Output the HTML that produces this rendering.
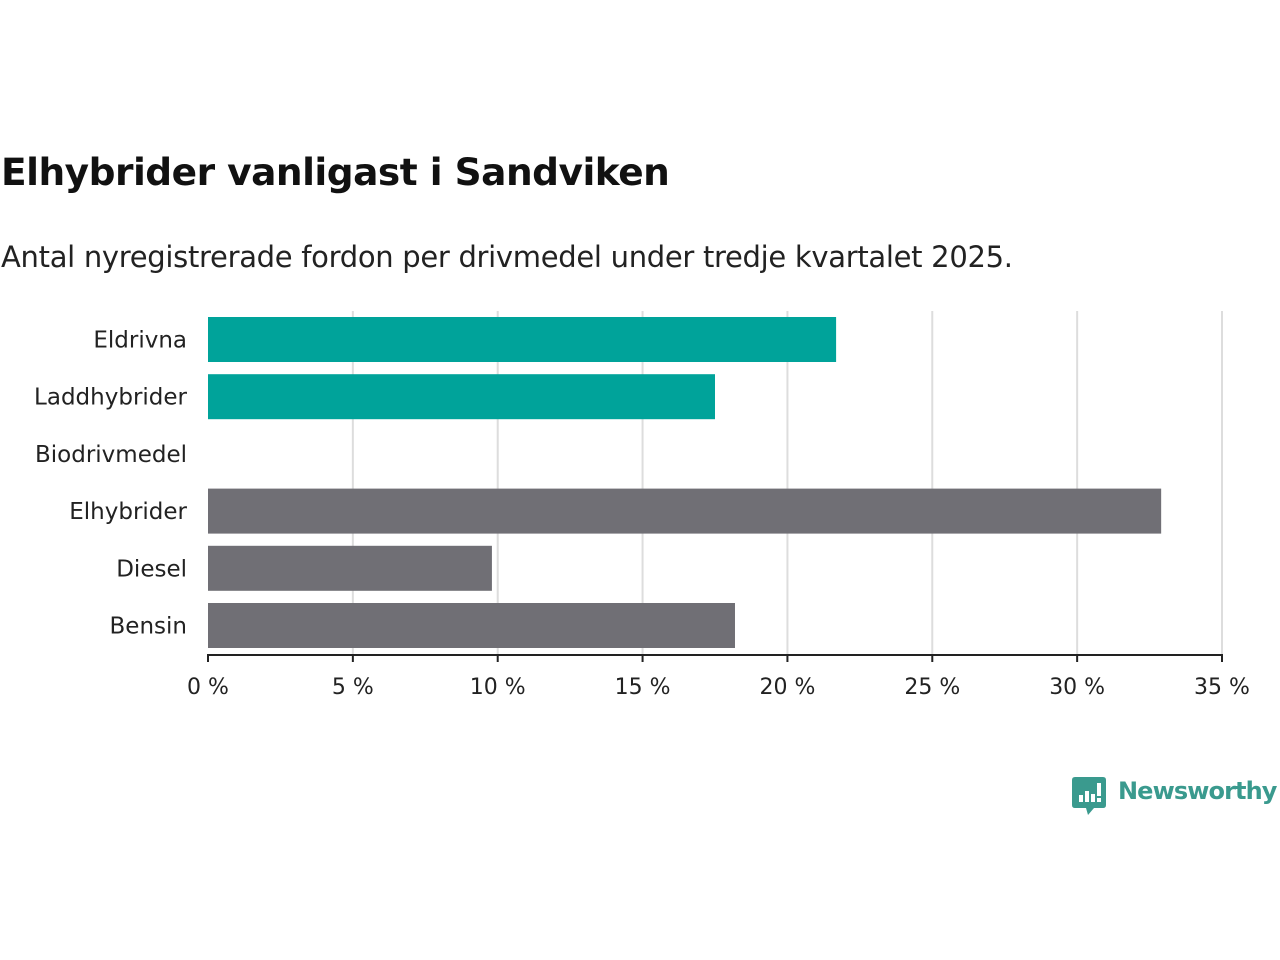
<!DOCTYPE html>
<html><head><meta charset="utf-8"><style>
body{margin:0;width:1280px;height:960px;background:#fff;font-family:"DejaVu Sans","Liberation Sans",sans-serif;overflow:hidden;position:relative}
#title{position:absolute;left:1px;top:150px;font-size:37.5px;font-weight:bold;color:#111;letter-spacing:-0.5px}
#sub{position:absolute;left:1px;top:240px;font-size:29px;color:#222;letter-spacing:-0.3px}
</style></head><body>
<div id="title">Elhybrider vanligast i Sandviken</div>
<div id="sub">Antal nyregistrerade fordon per drivmedel under tredje kvartalet 2025.</div>
<svg id="chart" width="1280" height="960" style="position:absolute;left:0;top:0"></svg>
<div style="position:absolute;left:1072px;top:777px">
<svg width="36" height="42"><path d="M3 0H31Q34 0 34 3V28Q34 31 31 31H22L16 38L14 31H3Q0 31 0 28V3Q0 0 3 0Z" fill="#3a9a8e"/><rect x="7" y="18" width="4" height="7" fill="#fff"/><rect x="13" y="14" width="4" height="11" fill="#fff"/><rect x="19" y="17" width="4" height="8" fill="#fff"/><rect x="25" y="6" width="4" height="13" fill="#fff"/><rect x="25" y="21" width="4" height="4" fill="#fff"/></svg>
<span style="position:absolute;left:46px;top:0px;font-size:24px;color:#3a9a8e;font-weight:600;letter-spacing:-0.9px;white-space:nowrap">Newsworthy</span>
</div>
<script>
const categories=["Eldrivna","Laddhybrider","Biodrivmedel","Elhybrider","Diesel","Bensin"];
const values=[21.68,17.5,0,32.9,9.8,18.19];
const colors=["#00a39a","#00a39a","#00a39a","#706f75","#706f75","#706f75"];
const ticks=[0,5,10,15,20,25,30,35];
const tickLabels=["0 %","5 %","10 %","15 %","20 %","25 %","30 %","35 %"];
const svg=document.getElementById('chart');
const NS='http://www.w3.org/2000/svg';
const x0=208,x1=1222,plotTop=311,plotBottom=655,band=57.2,bh=45,barTop=317;
const x=v=>x0+(v/35)*(x1-x0);
const y=i=>barTop+i*band;
function mk(t,a){const e=document.createElementNS(NS,t);for(const k in a)e.setAttribute(k,a[k]);svg.appendChild(e);return e;}
ticks.forEach((t,i)=>{
 if(i>0){const g=mk('line',{x1:x(t),x2:x(t),y1:plotTop,y2:plotBottom,stroke:'#ddd','stroke-width':2});
 
 }
 const tk=mk('line',{x1:x(t),x2:x(t),y1:plotBottom,y2:plotBottom+7,stroke:'#222','stroke-width':2});
 
 
 const tl=mk('text',{x:x(t),y:694,'text-anchor':'middle','font-size':22,fill:'#222','font-family':'DejaVu Sans, Liberation Sans, sans-serif'});
 tl.textContent=tickLabels[i];
 
 
});
categories.forEach((c,i)=>{
 const r=mk('rect',{x:x0,y:y(i),width:x(values[i])-x0,height:bh,fill:colors[i]});
 
 
 const l=mk('text',{x:187,y:y(i)+bh/2+8,'text-anchor':'end','font-size':23,fill:'#222','font-family':'DejaVu Sans, Liberation Sans, sans-serif'});
 l.textContent=c;
 
 
});
const ax=mk('line',{x1:x0-1,x2:x1+1,y1:plotBottom,y2:plotBottom,stroke:'#222','stroke-width':2});


</script>
</body></html>
